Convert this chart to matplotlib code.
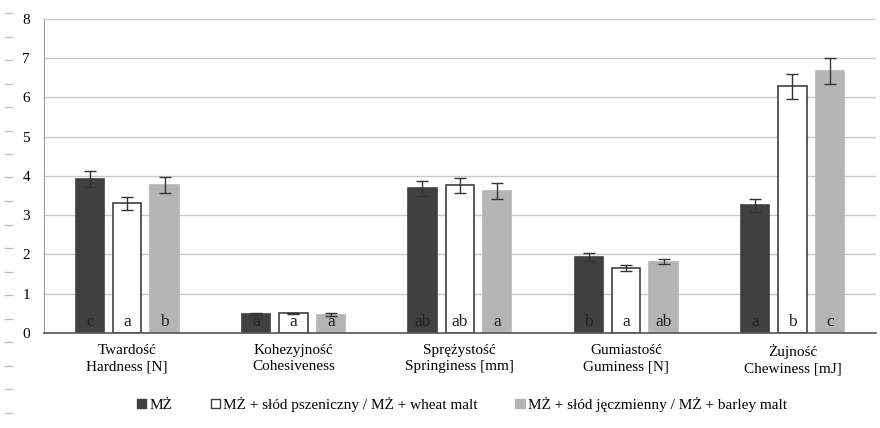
import numpy as np
import matplotlib
matplotlib.use("Agg")
import matplotlib.pyplot as plt
from matplotlib.lines import Line2D
from matplotlib.patches import Patch

plt.rcParams['font.family'] = ['Liberation Serif', 'DejaVu Serif']

categories = ["Twardość\nHardness [N]", "Kohezyjność\nCohesiveness",
              "Sprężystość\nSpringiness [mm]", "Gumiastość\nGuminess [N]",
              "Żujność\nChewiness [mJ]"]
series = ["MŻ", "MŻ + słód pszeniczny / MŻ + wheat malt",
          "MŻ + słód jęczmienny / MŻ + barley malt"]

mz = [3.92, 0.48, 3.68, 1.93, 3.25]
wheat = [3.30, 0.50, 3.76, 1.65, 6.28]
barley = [3.76, 0.46, 3.62, 1.82, 6.68]
mz_err = [0.20, 0.02, 0.20, 0.10, 0.17]
wheat_err = [0.16, 0.02, 0.19, 0.07, 0.31]
barley_err = [0.20, 0.04, 0.20, 0.07, 0.33]
mz_lbl = ["c", "a", "ab", "b", "a"]
wheat_lbl = ["a", "a", "ab", "a", "b"]
barley_lbl = ["b", "a", "a", "ab", "c"]

values = [mz, wheat, barley]
errors = [mz_err, wheat_err, barley_err]
letters = [mz_lbl, wheat_lbl, barley_lbl]
faces = ["#404040", "white", "#b5b5b5"]
edges = ["#404040", "#404040", "#b5b5b5"]

fig = plt.figure(figsize=(8.8, 4.28), dpi=100)
ax = fig.add_axes([0.05, 0.222, 0.945, 0.734])

x = np.arange(len(categories))
w = 0.17
step = 0.225
for i in range(3):
    xs = x + (i - 1) * step
    ax.bar(xs, values[i], w, color=faces[i], edgecolor=edges[i], linewidth=1.2, zorder=2)
    ax.errorbar(xs, values[i], yerr=errors[i], fmt="none", ecolor="#333333",
                elinewidth=1, capsize=4, capthick=1, zorder=3)
    for xi, t in zip(xs, letters[i]):
        ax.text(xi, 0.08, t, ha="center", va="bottom", fontsize=12.5,
                color="#222222", zorder=4)

ax.set_ylim(0, 8)
ax.set_xlim(-0.5, len(categories) - 0.5)
ax.set_yticks(range(9))
ax.yaxis.grid(True, color="#c8c8c8", linewidth=1)
ax.set_axisbelow(True)
ax.set_xticks(x)
ax.set_xticklabels(categories, fontsize=11, linespacing=1.3)
ax.tick_params(axis="x", length=0, pad=8)
ax.tick_params(axis="y", length=0, labelsize=11, pad=10)
for s in ["top", "right"]:
    ax.spines[s].set_visible(False)
ax.spines["left"].set_color("#9a9a9a")
ax.spines["bottom"].set_color("#555555")
ax.spines["bottom"].set_linewidth(1.2)

handles = [Patch(facecolor=faces[i], edgecolor=edges[i], linewidth=1) for i in range(3)]
fig.legend(handles, series, loc="center", bbox_to_anchor=(0.525, 0.055), ncol=3,
           frameon=False, fontsize=11, handlelength=0.6, handleheight=0.6,
           handletextpad=0.2, columnspacing=2.5)

# margin dashes along the left side of the page
for yy in np.arange(13, 428, 23.5):
    fig.add_artist(Line2D([5 / 880, 12 / 880], [1 - yy / 428, 1 - yy / 428],
                          color="#c0c0c0", linewidth=1))

fig.savefig("out.png", dpi=100)
